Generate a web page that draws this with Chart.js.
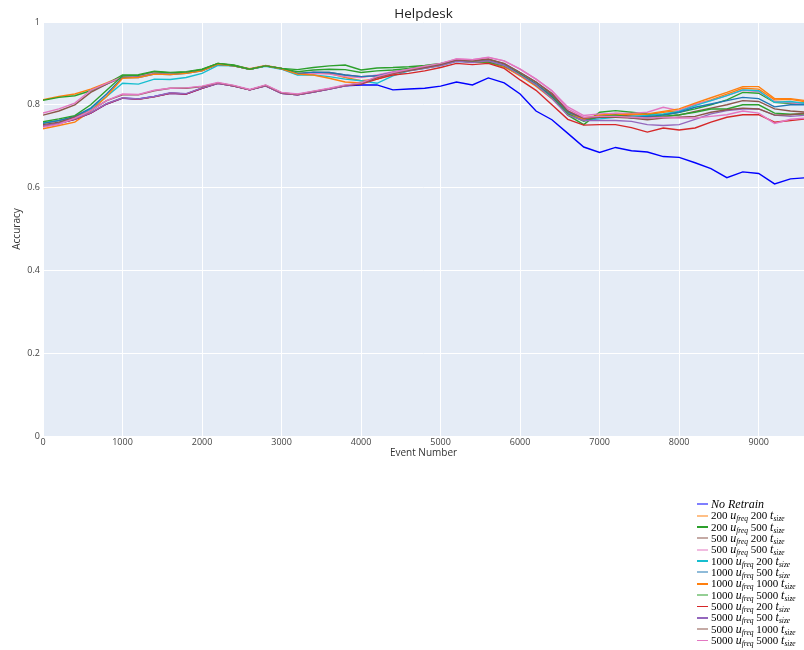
<!DOCTYPE html>
<html>
<head>
<meta charset="utf-8">
<script src="https://cdn.jsdelivr.net/npm/chart.js@4.4.1/dist/chart.umd.min.js"></script>
<style>
  html, body { margin: 0; padding: 0; background: #fff; }
  #wrap { position: relative; width: 804px; height: 650px; }
  #legend {
    position: absolute; left: 697px; top: 499px;
    font-family: "Liberation Serif", "DejaVu Serif", serif;
    font-size: 11px; color: #000;
  }
  #legend .row { height: 11.33px; line-height: 11.33px; white-space: nowrap; position: relative; }
  #legend .sw { display: inline-block; width: 11px; vertical-align: middle; margin-right: 3px; position: relative; top: -1px; }
  #legend i.v { font-size: 12px; }
  #legend sub { font-size: 7.5px; vertical-align: -2px; line-height: 0; }
</style>
</head>
<body>
<div id="wrap">
  <canvas id="c" width="804" height="650"></canvas>
  <div id="legend"></div>
</div>
<script>
// Event positions at which accuracy was sampled
const events = [0,200,400,600,800,1000,1200,1400,1600,1800,2000,2200,2400,2600,2800,3000,3200,3400,3600,3800,
  4000,4200,4400,4600,4800,5000,5200,5400,5600,5800,6000,6200,6400,6600,6800,7000,7200,7400,7600,7800,
  8000,8200,8400,8600,8800,9000,9200,9400,9600];

const noRetrain = [0.748,0.755,0.765,0.780,0.802,0.816,0.814,0.820,0.828,0.826,0.840,0.852,0.845,0.836,0.846,0.828,0.824,0.831,0.838,0.846,
  0.848,0.848,0.836,0.838,0.840,0.845,0.855,0.848,0.865,0.853,0.826,0.785,0.764,0.731,0.698,0.685,0.697,0.689,0.686,0.675,
  0.673,0.660,0.646,0.624,0.638,0.634,0.609,0.621,0.624];

const u200t200 = [0.812,0.820,0.826,0.838,0.853,0.869,0.871,0.879,0.877,0.879,0.885,0.900,0.895,0.887,0.895,0.888,0.876,0.878,0.876,0.866,
  0.858,0.862,0.876,0.884,0.889,0.896,0.906,0.904,0.905,0.892,0.872,0.846,0.818,0.783,0.768,0.775,0.779,0.778,0.776,0.782,
  0.786,0.801,0.812,0.826,0.840,0.838,0.812,0.813,0.807];

const u200t500 = [0.811,0.818,0.822,0.834,0.850,0.872,0.873,0.881,0.878,0.880,0.886,0.900,0.896,0.886,0.894,0.888,0.885,0.890,0.894,0.896,
  0.884,0.889,0.890,0.892,0.895,0.900,0.908,0.905,0.902,0.892,0.872,0.850,0.820,0.775,0.752,0.782,0.786,0.782,0.778,0.776,
  0.782,0.790,0.800,0.812,0.830,0.828,0.806,0.803,0.805];

const u500t200 = [0.775,0.785,0.800,0.830,0.850,0.866,0.869,0.877,0.875,0.878,0.883,0.898,0.894,0.886,0.894,0.888,0.874,0.878,0.878,0.872,
  0.868,0.870,0.878,0.884,0.890,0.897,0.909,0.907,0.910,0.899,0.878,0.855,0.828,0.785,0.764,0.772,0.775,0.773,0.771,0.772,
  0.775,0.784,0.792,0.800,0.810,0.808,0.790,0.785,0.782];

const u500t500 = [0.780,0.790,0.804,0.835,0.852,0.867,0.870,0.878,0.876,0.878,0.883,0.898,0.894,0.886,0.894,0.887,0.873,0.876,0.874,0.868,
  0.866,0.872,0.880,0.886,0.892,0.899,0.911,0.909,0.914,0.906,0.886,0.862,0.834,0.795,0.774,0.778,0.780,0.779,0.782,0.794,
  0.786,0.802,0.810,0.822,0.835,0.832,0.808,0.805,0.802];

const u1000t200 = [0.756,0.762,0.770,0.790,0.820,0.852,0.850,0.862,0.861,0.866,0.876,0.895,0.894,0.886,0.893,0.886,0.872,0.872,0.868,0.862,
  0.858,0.852,0.870,0.882,0.888,0.895,0.905,0.903,0.905,0.895,0.874,0.850,0.820,0.782,0.762,0.766,0.770,0.772,0.774,0.778,
  0.784,0.798,0.810,0.822,0.836,0.834,0.806,0.808,0.803];

const u1000t500 = [0.755,0.762,0.772,0.792,0.826,0.866,0.866,0.874,0.873,0.876,0.882,0.898,0.894,0.886,0.894,0.887,0.876,0.879,0.878,0.872,
  0.868,0.870,0.878,0.885,0.891,0.897,0.907,0.905,0.906,0.896,0.875,0.850,0.822,0.782,0.764,0.770,0.775,0.768,0.772,0.775,
  0.782,0.794,0.802,0.810,0.818,0.815,0.795,0.800,0.800];

const u1000t1000 = [0.742,0.750,0.758,0.785,0.820,0.864,0.866,0.874,0.873,0.876,0.882,0.898,0.894,0.886,0.894,0.887,0.874,0.872,0.864,0.855,
  0.853,0.862,0.875,0.883,0.889,0.896,0.906,0.903,0.904,0.892,0.870,0.845,0.815,0.778,0.765,0.775,0.776,0.777,0.778,0.784,
  0.790,0.804,0.817,0.830,0.844,0.844,0.815,0.815,0.810];

const u1000t5000 = [0.759,0.766,0.774,0.800,0.835,0.870,0.871,0.880,0.877,0.879,0.885,0.900,0.895,0.886,0.894,0.888,0.880,0.884,0.886,0.885,
  0.878,0.882,0.884,0.888,0.893,0.898,0.906,0.903,0.903,0.894,0.874,0.848,0.818,0.778,0.760,0.772,0.775,0.770,0.768,0.772,
  0.776,0.782,0.790,0.790,0.800,0.800,0.780,0.777,0.778];

const u5000t200 = [0.748,0.755,0.765,0.780,0.802,0.816,0.813,0.819,0.828,0.826,0.840,0.852,0.845,0.836,0.846,0.828,0.824,0.831,0.838,0.846,
  0.850,0.862,0.872,0.876,0.882,0.890,0.900,0.897,0.900,0.888,0.860,0.835,0.800,0.765,0.751,0.752,0.752,0.745,0.734,0.744,
  0.739,0.744,0.758,0.770,0.776,0.776,0.758,0.762,0.766];

const u5000t500 = [0.749,0.756,0.766,0.781,0.803,0.817,0.814,0.820,0.829,0.827,0.841,0.852,0.845,0.836,0.846,0.828,0.824,0.831,0.838,0.846,
  0.852,0.866,0.876,0.882,0.888,0.895,0.905,0.902,0.906,0.895,0.872,0.848,0.815,0.775,0.762,0.762,0.762,0.760,0.752,0.750,
  0.752,0.765,0.778,0.786,0.790,0.790,0.775,0.772,0.775];

const u5000t1000 = [0.752,0.758,0.770,0.786,0.810,0.824,0.824,0.834,0.840,0.840,0.844,0.853,0.846,0.836,0.847,0.829,0.825,0.832,0.839,0.847,
  0.852,0.866,0.876,0.883,0.890,0.897,0.908,0.906,0.910,0.900,0.878,0.855,0.825,0.785,0.768,0.770,0.770,0.768,0.764,0.768,
  0.770,0.772,0.782,0.788,0.792,0.790,0.775,0.776,0.780];

const u5000t5000 = [0.746,0.753,0.768,0.786,0.810,0.826,0.825,0.835,0.840,0.841,0.845,0.854,0.847,0.837,0.848,0.830,0.826,0.833,0.840,0.848,
  0.853,0.868,0.878,0.886,0.893,0.900,0.911,0.909,0.915,0.906,0.886,0.862,0.834,0.790,0.770,0.772,0.772,0.770,0.768,0.770,
  0.768,0.768,0.772,0.776,0.785,0.780,0.755,0.765,0.768];

// Retraining settings for each series (update frequency, training size)
const uFreq = [200, 200, 500, 500, 1000, 1000, 1000, 1000, 5000, 5000, 5000, 5000];
const tSize = [200, 500, 200, 500, 200, 500, 1000, 5000, 200, 500, 1000, 5000];
const retrainSeries = [u200t200, u200t500, u500t200, u500t500, u1000t200, u1000t500, u1000t1000, u1000t5000,
  u5000t200, u5000t500, u5000t1000, u5000t5000];
const retrainColors = ['#ff7f0e', '#2ca02c', '#8c564b', '#e377c2', '#17becf', '#1f77b4', '#ff7f0e', '#2ca02c',
  '#d62728', '#9467bd', '#8c564b', '#e377c2'];
const noRetrainColor = '#0000ff';
// swatch look in the legend: soft (straddling two pixel rows) or crisp
const swatchSoft = [true, true, false, true, true, false, true, false, true, false, false, true, false];

const yTicks = [0, 0.2, 0.4, 0.6, 0.8, 1];
const xTicks = [0, 1000, 2000, 3000, 4000, 5000, 6000, 7000, 8000, 9000];
const xMax = 9570;

function toPoints(vals) {
  return vals.map((v, i) => ({ x: events[i], y: v }));
}

const datasets = [{
  label: 'No Retrain',
  data: toPoints(noRetrain),
  borderColor: noRetrainColor,
  order: retrainSeries.length + 1
}];
retrainSeries.forEach((vals, i) => {
  datasets.push({
    label: uFreq[i] + ' u_freq ' + tSize[i] + ' t_size',
    data: toPoints(vals),
    borderColor: retrainColors[i],
    order: retrainSeries.length - i
  });
});
datasets.forEach(d => {
  d.borderWidth = 1.4;
  d.pointRadius = 0;
  d.fill = false;
  d.tension = 0;
});

const plotBackground = {
  id: 'plotBackground',
  beforeDraw(chart) {
    const { ctx, chartArea: a } = chart;
    ctx.save();
    ctx.fillStyle = '#e5ecf6';
    ctx.fillRect(a.left, a.top, a.right - a.left, a.bottom - a.top);
    ctx.restore();
  }
};

const titles = {
  id: 'titles',
  afterDraw(chart) {
    const { ctx, chartArea: a } = chart;
    const cx = (a.left + a.right) / 2;
    ctx.save();
    ctx.textAlign = 'center';
    ctx.textBaseline = 'middle';
    ctx.fillStyle = '#222';
    ctx.font = '13.5px "Open Sans", sans-serif';
    ctx.fillText('Helpdesk', cx, 14);
    ctx.fillStyle = '#333';
    ctx.font = '10px "Open Sans", sans-serif';
    ctx.fillText('Event Number', cx, 453);
    ctx.translate(17, (a.top + a.bottom) / 2);
    ctx.rotate(-Math.PI / 2);
    ctx.fillText('Accuracy', 0, 0);
    ctx.restore();
  }
};

new Chart(document.getElementById('c'), {
  type: 'line',
  data: { datasets },
  plugins: [plotBackground, titles],
  options: {
    responsive: false,
    animation: false,
    events: [],
    layout: { padding: { top: 22, right: 0, bottom: 0, left: 0 } },
    plugins: { legend: { display: false }, tooltip: { enabled: false }, title: { display: false } },
    scales: {
      x: {
        type: 'linear',
        min: 0,
        max: xMax,
        afterFit(s) { s.height = 214; },
        afterBuildTicks(s) { s.ticks = xTicks.map(v => ({ value: v })); },
        ticks: {
          color: '#444',
          font: { family: '"Open Sans", sans-serif', size: 9 },
          padding: 1,
          maxRotation: 0,
          autoSkip: false,
          callback: v => String(v)
        },
        grid: { color: '#ffffff', lineWidth: 1, drawTicks: false },
        border: { display: false }
      },
      y: {
        min: 0,
        max: 1,
        afterFit(s) { s.width = 43; },
        afterBuildTicks(s) { s.ticks = yTicks.map(v => ({ value: v })); },
        ticks: {
          color: '#444',
          font: { family: '"Open Sans", sans-serif', size: 9 },
          padding: 3,
          callback: v => String(v)
        },
        grid: { color: '#ffffff', lineWidth: 1, drawTicks: false },
        border: { display: false }
      }
    }
  }
});

// Legend with math-style labels
const legend = document.getElementById('legend');
function addRow(color, soft, html) {
  const row = document.createElement('div');
  row.className = 'row';
  const sw = document.createElement('span');
  sw.className = 'sw';
  sw.style.height = soft ? '2px' : '1.5px';
  sw.style.background = color;
  sw.style.opacity = soft ? '0.5' : '1';
  row.appendChild(sw);
  const t = document.createElement('span');
  t.innerHTML = html;
  row.appendChild(t);
  legend.appendChild(row);
}
addRow(noRetrainColor, swatchSoft[0], '<i class="v">No Retrain</i>');
uFreq.forEach((u, i) => {
  addRow(retrainColors[i], swatchSoft[i + 1],
    u + ' <i class="v">u</i><sub><i>freq</i></sub> ' + tSize[i] + ' <i class="v">t</i><sub><i>size</i></sub>');
});
</script>
</body>
</html>
